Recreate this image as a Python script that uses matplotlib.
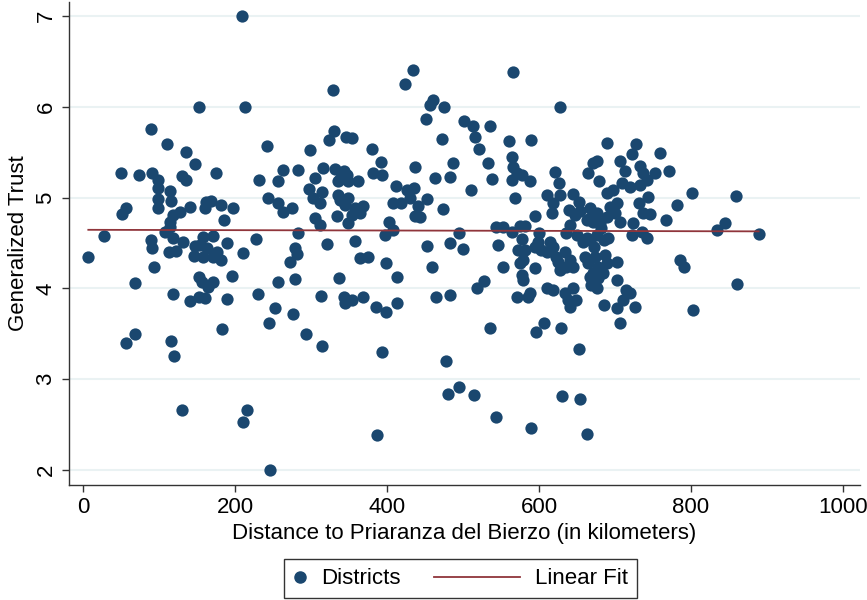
import numpy as np
import matplotlib
matplotlib.use("Agg")
import matplotlib.pyplot as plt
from matplotlib.lines import Line2D
from matplotlib.legend_handler import HandlerLine2D

plt.rcParams['font.family'] = ['Liberation Sans', 'DejaVu Sans']

# district points: distance (km), generalized trust
dist = [
    209, 434, 424, 329, 152, 213, 461, 456, 475, 451, 90, 330,
    110, 135, 148, 242, 50, 74, 91, 99, 99, 130, 135, 175, 232, 244, 115, 99, 116, 99,
    56, 51, 141, 162, 169, 161, 182, 197, 186, 128, 119, 114, 114, 108, 27, 7, 89, 91,
    119, 131, 113, 122, 158, 171, 154, 147, 163, 176, 146, 158, 171, 182, 190, 228, 211,
    94, 68, 152, 156, 171, 164, 196, 119, 141, 152, 161, 190, 230, 245,
    299, 324, 346, 354, 380, 472, 392, 437, 263, 283, 257, 305, 316, 332, 343, 338, 349,
    362, 347, 336, 382, 394, 463, 297, 315, 303, 312, 257, 263, 275, 336, 338, 349, 345,
    358, 369, 354, 364, 349, 334, 305, 312, 412, 426, 435, 408, 419, 430, 441, 452, 437,
    443, 474, 402, 397, 408, 283, 279, 281, 272, 321, 358, 364, 375, 399, 452, 459, 413,
    337, 257, 279, 313, 343, 345, 354, 368, 386, 399, 413, 464, 253, 276,
    566, 628, 501, 513, 516, 521, 536, 561, 589, 487, 483, 533, 564, 566, 571, 577, 564,
    588, 538, 511, 569, 621, 626, 610, 628, 619, 617, 645, 652, 639, 647, 667, 676, 663,
    671, 680, 665, 671, 676, 679, 690, 706, 713, 709, 728, 723, 733, 737, 742, 689, 698,
    693, 702, 689, 707, 700, 731, 737, 724, 595, 544, 553, 575, 582, 495, 483, 500, 564,
    578, 573, 582, 546, 600, 599, 595, 603, 614, 619, 610, 623, 636, 641, 650, 658, 667,
    676, 685, 634, 641, 625, 628, 636, 645, 661, 665, 674, 678, 687, 689, 702, 671, 684,
    667, 678, 676, 702, 715, 711, 702, 726, 685, 720, 610, 619, 634, 645, 638, 649, 641,
    595, 577, 579, 575, 579, 552, 527, 519, 571, 586, 588, 483, 535, 596, 606, 629, 706,
    759, 771, 801, 859, 782, 767, 834, 845, 889, 786, 791, 861, 803, 746, 753, 742, 735,
    723, 744, 720, 733, 654, 667, 682, 691, 663, 672, 669,
    56, 68, 116, 120, 183, 293, 314, 394, 478, 480, 495, 130, 216, 211, 387, 246,
    652, 515, 543, 589, 630, 654, 663,
]
trust = [
    7.00, 6.41, 6.25, 6.19, 6.00, 6.00, 6.07, 6.02, 6.00, 5.86, 5.75, 5.73,
    5.59, 5.50, 5.37, 5.57, 5.27, 5.25, 5.27, 5.19, 5.11, 5.24, 5.19, 5.27, 5.19, 5.00, 5.07, 4.98, 4.96, 4.88,
    4.88, 4.82, 4.90, 4.95, 4.96, 4.88, 4.92, 4.89, 4.75, 4.84, 4.81, 4.73, 4.68, 4.62, 4.58, 4.35, 4.53, 4.45,
    4.55, 4.51, 4.40, 4.41, 4.57, 4.58, 4.48, 4.47, 4.44, 4.40, 4.36, 4.35, 4.35, 4.31, 4.50, 4.54, 4.39,
    4.24, 4.06, 4.13, 4.07, 4.07, 4.01, 4.14, 3.94, 3.86, 3.90, 3.89, 3.88, 3.94, 3.62,
    5.52, 5.63, 5.67, 5.66, 5.54, 5.64, 5.39, 5.34, 5.30, 5.30, 5.18, 5.22, 5.33, 5.32, 5.29, 5.21, 5.18,
    5.18, 5.25, 5.18, 5.27, 5.25, 5.22, 5.09, 5.06, 4.99, 4.94, 4.94, 4.84, 4.88, 5.03, 4.97, 4.99, 4.92,
    4.89, 4.91, 4.81, 4.83, 4.72, 4.80, 4.77, 4.70, 5.13, 5.08, 5.10, 4.94, 4.94, 4.99, 4.91, 4.98, 4.80,
    4.79, 4.87, 4.73, 4.59, 4.64, 4.61, 4.45, 4.38, 4.29, 4.49, 4.52, 4.34, 4.35, 4.28, 4.47, 4.24, 4.12,
    4.11, 4.07, 4.10, 3.92, 3.91, 3.84, 3.87, 3.90, 3.79, 3.74, 3.84, 3.90, 3.78, 3.72,
    6.38, 6.00, 5.84, 5.79, 5.67, 5.53, 5.79, 5.62, 5.63, 5.38, 5.23, 5.38, 5.45, 5.34, 5.27, 5.25, 5.19,
    5.18, 5.20, 5.08, 5.00, 5.28, 5.16, 5.03, 5.03, 4.94, 4.83, 5.04, 4.95, 4.86, 4.81, 4.88, 4.83, 4.75,
    4.73, 4.72, 5.27, 5.38, 5.40, 5.18, 5.60, 5.40, 5.29, 5.16, 5.59, 5.48, 5.35, 5.27, 5.19, 5.05, 5.08,
    4.90, 4.94, 4.79, 4.73, 4.83, 4.94, 4.83, 4.72, 4.80, 4.68, 4.68, 4.69, 4.69, 4.61, 4.50, 4.43, 4.62,
    4.54, 4.42, 4.42, 4.48, 4.61, 4.51, 4.46, 4.42, 4.51, 4.46, 4.40, 4.35, 4.61, 4.70, 4.59, 4.51, 4.53,
    4.59, 4.53, 4.40, 4.31, 4.29, 4.20, 4.23, 4.24, 4.35, 4.28, 4.35, 4.24, 4.37, 4.28, 4.29, 4.17, 4.17,
    4.13, 4.11, 4.00, 4.09, 3.98, 3.87, 3.78, 3.79, 3.82, 3.95, 4.00, 3.98, 3.95, 4.00, 3.87, 3.87, 3.80,
    4.22, 4.15, 4.09, 4.28, 4.31, 4.23, 4.08, 4.00, 3.90, 3.90, 3.95, 3.93, 3.56, 3.52, 3.62, 3.56, 3.62,
    5.49, 5.29, 5.05, 5.02, 4.92, 4.75, 4.64, 4.72, 4.60, 4.31, 4.24, 4.05, 3.76, 4.82, 5.27, 4.55, 4.62,
    4.59, 5.01, 5.12, 5.14, 4.85, 4.77, 4.66, 4.55, 4.55, 4.46, 4.04,
    3.40, 3.50, 3.42, 3.25, 3.55, 3.50, 3.37, 3.30, 3.20, 2.84, 2.91, 2.66, 2.66, 2.53, 2.39, 2.00,
    3.33, 2.83, 2.58, 2.46, 2.81, 2.78, 2.40,
]

# linear fit end points as drawn in the reference
fit_x = [7, 889]
fit_y = [4.645, 4.628]

xticks = [0, 200, 400, 600, 800, 1000]
yticks = [2, 3, 4, 5, 6, 7]

navy = '#1a476f'
maroon = '#90353b'
FS = 16


class WideLine(HandlerLine2D):
    # legend line that reaches back to the left of its (narrow) handle box
    def create_artists(self, legend, orig_handle, xdescent, ydescent,
                       width, height, fontsize, trans):
        ext = 3.3 * fontsize
        return super().create_artists(legend, orig_handle, xdescent + ext, ydescent,
                                      width + ext, height, fontsize, trans)


fig = plt.figure(figsize=(8.67, 6.0), dpi=100)
ax = fig.add_axes([0.0796, 0.1917, 0.912, 0.805])

for t in yticks:
    ax.axhline(t, color='#eaf2f3', lw=1.5, zorder=0)

ax.scatter(dist, trust, s=78, color=navy, linewidths=0, zorder=2)
ax.plot(fit_x, fit_y, color=maroon, lw=1.3, zorder=3)

ax.set_xlim(-18.4, 1022)
ax.set_ylim(1.835, 7.154)
ax.set_xticks(xticks)
ax.set_yticks(yticks)
ax.tick_params(axis='both', labelsize=FS, length=5, width=1, color='#333333', pad=4)
for lab in ax.get_yticklabels():
    lab.set_rotation(90)
    lab.set_va('center')

for side in ['top', 'right']:
    ax.spines[side].set_visible(False)
for side in ['left', 'bottom']:
    ax.spines[side].set_color('#333333')
    ax.spines[side].set_linewidth(1)

ax.set_xlabel('Distance to Priaranza del Bierzo (in kilometers)', fontsize=FS, labelpad=3)
ax.set_ylabel('Generalized Trust', fontsize=FS, labelpad=5)

h_pts = Line2D([], [], marker='o', ls='none', color=navy, markersize=8)
h_fit = Line2D([], [], color=maroon, lw=1.3)
leg = fig.legend([h_pts, h_fit], ['Districts', 'Linear Fit'], loc='lower center',
                 bbox_to_anchor=(0.531, 0.003), borderaxespad=0, ncol=2, fontsize=FS,
                 frameon=True, fancybox=False, edgecolor='black', handlelength=0.6,
                 columnspacing=4.8, borderpad=0.4, handletextpad=0.65,
                 handler_map={h_fit: WideLine()})
leg.get_frame().set_linewidth(1)

fig.savefig('out.png', dpi=100)
